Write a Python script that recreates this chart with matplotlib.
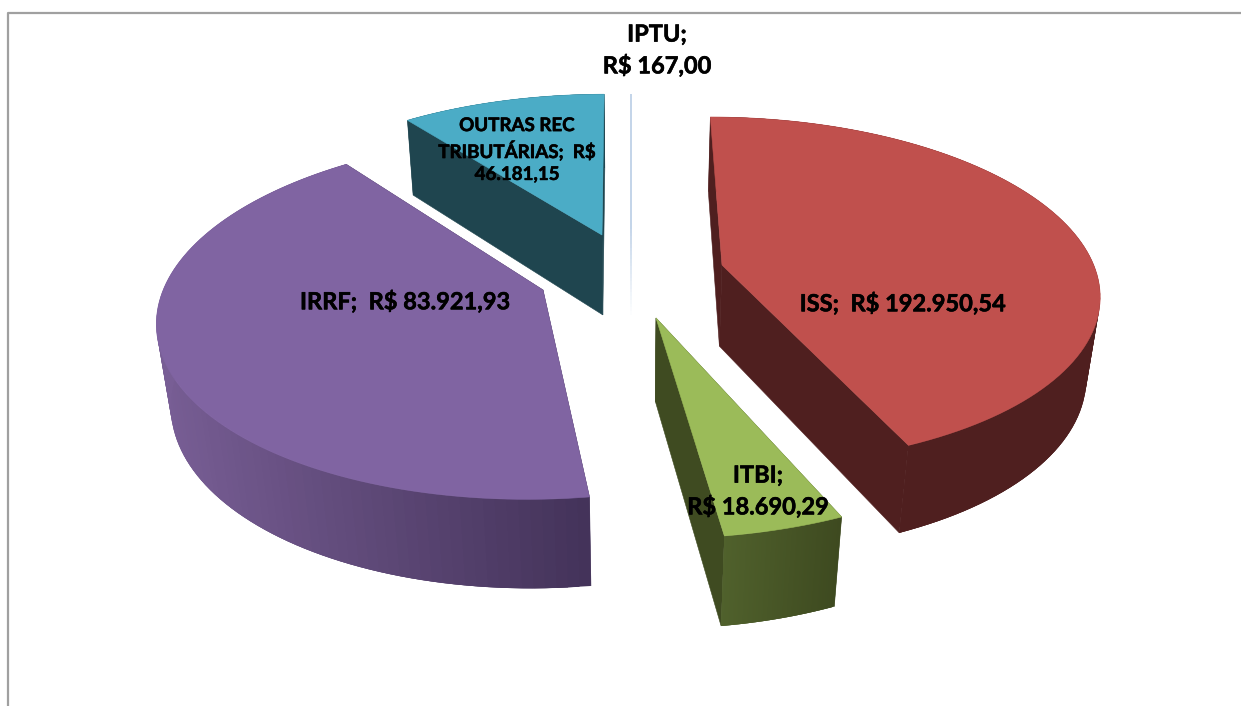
import numpy as np
import matplotlib
matplotlib.use("Agg")
import matplotlib.pyplot as plt
from matplotlib.patches import Polygon
from matplotlib.colors import to_rgb
import matplotlib.patheffects as pe

# ---- data -------------------------------------------------------------
categories = ["IPTU", "ISS", "ITBI", "IRRF", "OUTRAS REC TRIBUTÁRIAS"]
# drawn sweep of every slice, degrees
slice_degrees = [0.3, 156.4, 15.6, 150.5, 37.2]
labels = ["IPTU;\nR$ 167,00",
          "ISS;  R$ 192.950,54",
          "ITBI;\nR$ 18.690,29",
          "IRRF;  R$ 83.921,93",
          "OUTRAS REC\nTRIBUTÁRIAS;  R$\n46.181,15"]

# ---- styling / layout ---------------------------------------------------
top_colors = ["#b9cde5", "#c0504d", "#9bbb59", "#8064a2", "#4bacc6"]
cut_colors = ["#dce6f2", "#4f1f1f", "#3f4b21", "#3f2f55", "#1f454f"]
side_right = ["#dce6f2", "#4f1f1f", "#3e4a20", "#44335a", "#1f454f"]
side_left = ["#dce6f2", "#4f1f1f", "#50612c", "#785e95", "#1f454f"]
apex_px = [(633, 235), (722, 265), (656, 318), (543, 290), (602, 235)]
label_xy = [(657, 50), (903, 303), (758, 491), (405, 301), (517, 150)]
label_size = [17, 17, 17, 17, 13.5]
start_angle = 359.7
CX, CY = 632.0, 275.0
RX, RY, PERSP = 375.0, 173.0, 0.15
DEPTH, DEPTH_Q = 84.0, 0.03

plt.rcParams["font.family"] = ["Lato", "DejaVu Sans"]
fig = plt.figure(figsize=(12.41, 7.06), dpi=100)
ax = fig.add_axes([0, 0, 1, 1])
ax.set_xlim(0, 1241)
ax.set_ylim(706, 0)
ax.axis("off")


def project(u, v, bottom=False):
    w = 1 - PERSP * v
    if bottom:
        w = w + DEPTH_Q
        return CX + RX * u / w, CY + (RY * v + DEPTH) / w
    return CX + RX * u / w, CY + RY * v / w


def unproject(x, y):
    yn = (y - CY) / RY
    v = yn / (1 + PERSP * yn)
    w = 1 - PERSP * v
    return (x - CX) / RX * w, v


def mix(a, b, t):
    a, b = np.array(to_rgb(a)), np.array(to_rgb(b))
    return tuple(a + (b - a) * t)


def poly(xs, ys, color, z, lw=0.4):
    ax.add_patch(Polygon(np.column_stack([xs, ys]), closed=True, facecolor=color,
                         edgecolor=color if lw else "none", linewidth=lw, zorder=z))


# frame
ax.plot([1241, 7.5, 7.5], [12.5, 12.5, 705.5], color="#a0a0a0", lw=1.6, zorder=1)

angle = start_angle
for i, sweep in enumerate(slice_degrees):
    a0, a1 = angle, angle + sweep
    angle = a1
    u0, v0 = unproject(*apex_px[i])
    phi = np.radians(np.linspace(a0, a1, 100))
    us = u0 + np.sin(phi)
    vs = v0 - np.cos(phi)
    if sweep < 1:  # hairline slice: pale line fading downward
        xt, yt = project(us[0], vs[0])
        xb, yb = project(u0, v0, bottom=True)
        ys = np.linspace(yt, yb, 60)
        for k in range(59):
            t = max(0.0, (ys[k] - 225) / (yb - 225))
            ax.plot([xt, xt], [ys[k], ys[k + 1]], color=mix(top_colors[i], "#ffffff", t),
                    lw=1.2, solid_capstyle="butt", zorder=3)
        continue
    tx, ty = project(us, vs)
    bx, by = project(us, vs, bottom=True)
    ax0, ay0 = project(u0, v0)
    bx0, by0 = project(u0, v0, bottom=True)
    base = 3 + i * 0.01
    # cut faces
    poly([ax0, tx[0], bx[0], bx0], [ay0, ty[0], by[0], by0], cut_colors[i], base)
    poly([ax0, tx[-1], bx[-1], bx0], [ay0, ty[-1], by[-1], by0], cut_colors[i], base)
    # curved outer side: overlapping strips painted in order, so no seams show
    xmin, xmax = tx.min(), tx.max()
    for k in range(len(tx) - 1):
        t = (xmax - tx[k]) / max(xmax - xmin, 1)
        e = min(k + 3, len(tx) - 1)
        poly([tx[k], tx[e], bx[e], bx[k]], [ty[k], ty[e], by[e], by[k]],
             mix(side_right[i], side_left[i], t), base + 0.001 + k * 1e-6, lw=0)
    # top face
    poly(np.r_[ax0, tx], np.r_[ay0, ty], top_colors[i], base + 0.002)

for i, lab in enumerate(labels):
    ax.text(*label_xy[i], lab, ha="center", va="center", fontsize=label_size[i],
            fontweight="bold", color="#000000", linespacing=1.35, zorder=10,
            path_effects=[pe.withStroke(linewidth=0.4, foreground="#000000")])

fig.savefig("out.png", dpi=100)
